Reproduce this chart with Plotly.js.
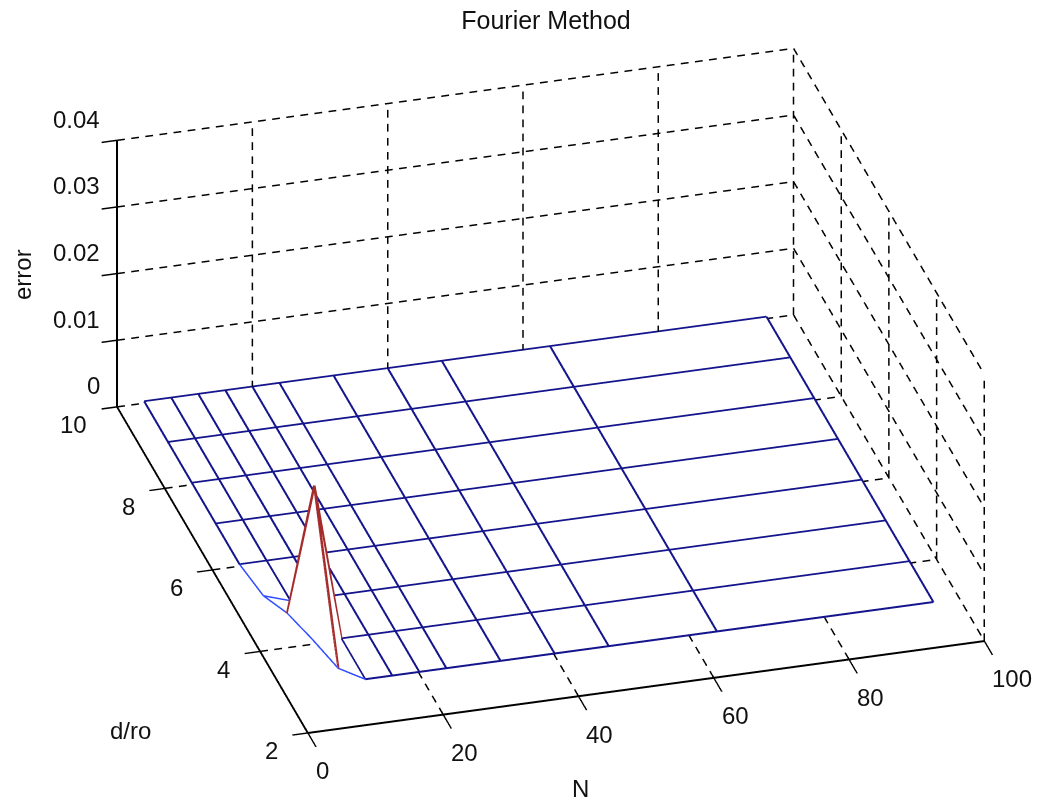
<!DOCTYPE html>
<html><head><meta charset="utf-8"><script src="https://cdn.plot.ly/plotly-3.0.1.min.js"></script>
<style>html,body{margin:0;padding:0;background:#fff}#p{width:1041px;height:802px}</style></head>
<body><div id="p"></div><script>
const N=[4,8,12,16,20,24,32,40,48,64,96];
const dro=[3,4,5,6,7,8,9,10];
const err=[
[.0075,.0024,.0002,.0002,.0002,.0002,.0002,.0002,.0002,.0002,.0002],
[.0051,.0237,.0002,.0002,.0002,.0002,.0002,.0002,.0002,.0002,.0002],
[.0016,.0003,.0002,.0002,.0002,.0002,.0002,.0002,.0002,.0002,.0002],
[.0002,.0002,.0002,.0002,.0002,.0002,.0002,.0002,.0002,.0002,.0002],
[.0002,.0002,.0002,.0002,.0002,.0002,.0002,.0002,.0002,.0002,.0002],
[.0002,.0002,.0002,.0002,.0002,.0002,.0002,.0002,.0002,.0002,.0002],
[.0002,.0002,.0002,.0002,.0002,.0002,.0002,.0002,.0002,.0002,.0002],
[.0002,.0002,.0002,.0002,.0002,.0002,.0002,.0002,.0002,.0002,.0002]];
const xTicks=[0,20,40,60,80,100];
const yTicks=[2,4,6,8,10];
const zTicks=[0,.01,.02,.03,.04];
const F='Liberation Sans, Arial, sans-serif';
const traces=[];
// white faces hide what lies behind the mesh
const fx=[],fy=[],fz=[],fi=[],fj=[],fk=[];
const nc=N.length, idx=(r,c)=>r*nc+c;
dro.forEach((d,r)=>N.forEach((n,c)=>{fx.push(n);fy.push(d);fz.push(err[r][c]*.96);
 if(r<dro.length-1&&c<nc-1){
  fi.push(idx(r,c),idx(r,c));fj.push(idx(r,c+1),idx(r+1,c+1));fk.push(idx(r+1,c+1),idx(r+1,c));}}));
traces.push({type:'mesh3d',x:fx,y:fy,z:fz,i:fi,j:fj,k:fk,color:'#ffffff',hoverinfo:'skip',showscale:false,flatshading:true,
 lighting:{ambient:1,diffuse:0,specular:0,roughness:1,fresnel:0}});
function seg(xa,ya,za,col,w){traces.push({type:'scatter3d',mode:'lines',x:xa,y:ya,z:za,hoverinfo:'skip',showlegend:false,
 line:{color:col,width:w}});}
const gx=[],gy=[],gz=[];
function dashed(a,b,count){for(let k=0;k<count;k++){const t0=k/count,t1=(k+.55)/count;
 [t0,t1].forEach(t=>{gx.push(a[0]+(b[0]-a[0])*t);gy.push(a[1]+(b[1]-a[1])*t);gz.push(a[2]+(b[2]-a[2])*t);});
 gx.push(null);gy.push(null);gz.push(null);}}
const nX=48,nY=27,nZ=19;
zTicks.forEach(z=>{dashed([0,10,z],[100,10,z],nX);dashed([100,10,z],[100,2,z],nY);});
xTicks.slice(1).forEach(x=>{dashed([x,10,0],[x,10,.04],nZ);if(x<100)dashed([x,2,0],[x,10,0],nY);});
yTicks.forEach(y=>{if(y<10)dashed([100,y,0],[100,y,.04],nZ);if(y>2&&y<10)dashed([0,y,0],[100,y,0],nX);});
seg(gx,gy,gz,'#000',3);
const eps=.00008;
function meshSeg(i1,j1,i2,j2){const a=err[i1][j1],b=err[i2][j2],m=Math.max(a,b);
 let c='#14148c',w=4; if(m>.02){c='#a52a2a';w=5;} else if(m>=.001){c='#2f4cff';w=3;}
 seg([N[j1],N[j2]],[dro[i1],dro[i2]],[a+eps,b+eps],c,w);}
dro.forEach((d,i)=>N.forEach((n,j)=>{if(j<N.length-1)meshSeg(i,j,i,j+1);if(i<dro.length-1)meshSeg(i,j,i+1,j);}));
const ax={showbackground:false,showspikes:false,showgrid:false,zeroline:false,showline:true,linecolor:'#000',linewidth:4,
 ticks:'outside',tickcolor:'#000',tickwidth:3,showticklabels:false,title:{text:''}};
const anns=[];
const fnt={family:F,size:24,color:'#111'};
xTicks.forEach(t=>anns.push({x:t,y:2,z:0,text:String(t),showarrow:false,xanchor:'left',yanchor:'middle',xshift:6,yshift:-38,font:fnt}));
yTicks.forEach(t=>anns.push({x:0,y:t,z:0,text:String(t),showarrow:false,xanchor:'right',yanchor:'middle',xshift:-28,yshift:-18,font:fnt}));
zTicks.forEach(t=>anns.push({x:0,y:10,z:t,text:String(t),showarrow:false,xanchor:'right',yanchor:'middle',xshift:-15,yshift:21,font:fnt}));
const pa={xref:'paper',yref:'paper',showarrow:false,xanchor:'center',yanchor:'middle',font:fnt};
const layout={width:1041,height:802,margin:{l:0,r:0,t:0,b:0},paper_bgcolor:'#fff',showlegend:false,
 title:{text:'Fourier Method',x:546/1041,xanchor:'center',y:1-20/802,yanchor:'middle',font:{family:F,size:25,color:'#111'}},
 annotations:[
  Object.assign({},pa,{x:580/1041,y:1-788/802,text:'N'}),
  Object.assign({},pa,{x:130/1041,y:1-730/802,text:'d/ro'}),
  Object.assign({},pa,{x:22/1041,y:1-275/802,text:'error',textangle:-90})],
 scene:{domain:{x:[0,1],y:[0,1]},aspectmode:'manual',aspectratio:{x:1.753,y:1.753,z:.759},
  camera:{projection:{type:'orthographic'},eye:{x:-.7893,y:-2.5213,z:1.4233},up:{x:0,y:0,z:1},center:{x:-.0759,y:.0086,z:-.0227}},
  xaxis:Object.assign({},ax,{range:[-.01,100.01],tickvals:xTicks,ticklen:16}),
  yaxis:Object.assign({},ax,{range:[1.999,10.001],tickvals:yTicks,ticklen:30}),
  zaxis:Object.assign({},ax,{range:[-.00001,.04001],tickvals:zTicks,ticklen:10}),
  annotations:anns}};
Plotly.newPlot('p',traces,layout,{displayModeBar:false});
</script></body></html>
